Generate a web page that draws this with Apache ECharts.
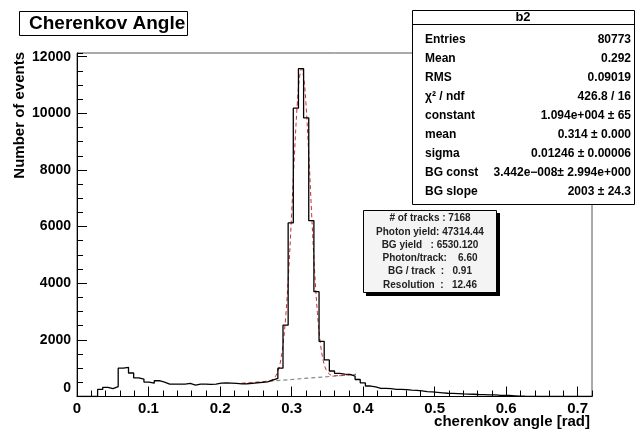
<!DOCTYPE html>
<html>
<head>
<meta charset="utf-8">
<script src="https://cdn.jsdelivr.net/npm/echarts@6/dist/echarts.min.js"></script>
<style>
html,body{margin:0;padding:0;background:#fff;}
#c{width:635px;height:434px;}
</style>
</head>
<body>
<div id="c"></div>
<script>
// ---- data ----
const binStart = 0.0;
const binWidth = 0.0072;   // 100 bins over [0, 0.72]
const counts = [
  0, 0, 0, 0, 250, 325, 280, 350, 1000, 1030,
  830, 660, 610, 510, 470, 557, 505, 440, 440, 440,
  440, 460, 405, 440, 440, 430, 440, 470, 480, 470,
  460, 445, 450, 460, 480, 500, 520, 580, 640, 1000,
  2520, 6130, 10180, 11577, 9840, 6210, 3700, 1950, 1290, 900,
  820, 790, 780, 720, 600, 480, 370, 340, 290, 285,
  275, 254, 250, 240, 225, 215, 200, 170, 160, 145,
  130, 115, 110, 100, 90, 85, 80, 70, 65, 60,
  55, 45, 40, 35, 25, 15, 8, 5, 3, 0,
  0, 0, 0, 0, 0, 0, 0, 0, 0, 0
];
// total fit curve (red dashed)
const fitX = [0.230, 0.240, 0.250, 0.260, 0.270, 0.275, 0.280, 0.284, 0.288, 0.292, 0.296, 0.300, 0.304, 0.308, 0.311, 0.314, 0.317, 0.320, 0.324, 0.328, 0.332, 0.336, 0.340, 0.344, 0.348, 0.353, 0.360, 0.370, 0.380, 0.390];
const fitY = [461, 481, 501, 521, 563, 633, 826, 1172, 1818, 2887, 4444, 6421, 8537, 10360, 11250, 11569, 11262, 10384, 8577, 6477, 4516, 2975, 1922, 1292, 962, 789, 733, 741, 761, 781];
// background line (grey dashed)
const bgX = [0.230, 0.390];
const bgY = [461, 781];

const xTickLabels = ['0', '0.1', '0.2', '0.3', '0.4', '0.5', '0.6', '0.7'];
const yTickLabels = ['0', '2000', '4000', '6000', '8000', '10000', '12000'];

const statsRows = [
  ['Entries', '80773'],
  ['Mean', '0.292'],
  ['RMS', '0.09019'],
  ['\u03C7\u00B2 / ndf', '426.8 / 16'],
  ['constant', '1.094e+004 \u00B1 65'],
  ['mean', '0.314 \u00B1 0.000'],
  ['sigma', '0.01246 \u00B1 0.00006'],
  ['BG const', '3.442e\u2212008\u00B1 2.994e+000'],
  ['BG slope', '2003 \u00B1 24.3']
];
const infoLines = [
  '# of tracks : 7168',
  'Photon yield: 47314.44',
  'BG yield   : 6530.120',
  'Photon/track:    6.60',
  'BG / track  :   0.91',
  'Resolution  :   12.46'
];

// ---- build ----
const histData = counts.map((c, i) => [binStart + i * binWidth, c]);
histData.push([binStart + counts.length * binWidth, 0]);
const fitData = fitX.map((x, i) => [x, fitY[i]]);
const bgData = bgX.map((x, i) => [x, bgY[i]]);

const F = '"Liberation Sans", Arial, sans-serif';
const chart = echarts.init(document.getElementById('c'), null, {renderer: 'canvas'});

const gridL = 77, gridT = 53, gridW = 515, gridH = 343.5;

const graphics = [];
// title box
graphics.push({type: 'rect', shape: {x: 19.5, y: 11.5, width: 168, height: 24}, style: {fill: '#fff', stroke: '#000', lineWidth: 1}, z: 10});
graphics.push({type: 'text', x: 29, y: 24, style: {text: 'Cherenkov Angle', font: 'bold 19px ' + F, fill: '#000', textVerticalAlign: 'middle'}, z: 11});
// stats box
const sbX = 412, sbY = 10, sbW = 222, sbH = 194;
graphics.push({type: 'rect', shape: {x: sbX + 0.5, y: sbY + 0.5, width: sbW, height: sbH}, style: {fill: '#fff', stroke: '#000', lineWidth: 1}, z: 10});
graphics.push({type: 'line', shape: {x1: sbX, y1: 24.5, x2: sbX + sbW, y2: 24.5}, style: {stroke: '#000', lineWidth: 1}, z: 11});
graphics.push({type: 'text', x: sbX + sbW / 2, y: 17, style: {text: 'b2', font: 'bold 13px ' + F, fill: '#000', textAlign: 'center', textVerticalAlign: 'middle'}, z: 11});
statsRows.forEach((r, k) => {
  const y = 39.3 + 19.1 * k;
  graphics.push({type: 'text', x: 425, y: y, style: {text: r[0], font: 'bold 12px ' + F, fill: '#000', textVerticalAlign: 'middle'}, z: 11});
  graphics.push({type: 'text', x: 631, y: y, style: {text: r[1], font: 'bold 12px ' + F, fill: '#000', textAlign: 'right', textVerticalAlign: 'middle'}, z: 11});
});
// info box with shadow
graphics.push({type: 'rect', shape: {x: 366, y: 213, width: 134, height: 83}, style: {fill: '#000'}, z: 10});
graphics.push({type: 'rect', shape: {x: 363.5, y: 210.5, width: 133, height: 82}, style: {fill: '#f4f4f4', stroke: '#000', lineWidth: 1}, z: 11});
infoLines.forEach((t, k) => {
  graphics.push({type: 'text', x: 430, y: 218.5 + 13.3 * k, style: {text: t, font: 'bold 10px ' + F, fill: '#222', textAlign: 'center', textVerticalAlign: 'middle'}, z: 12});
});
// axis titles
graphics.push({type: 'text', x: 20, y: 52, rotation: Math.PI / 2, style: {text: 'Number of events', font: 'bold 15px ' + F, fill: '#000', textAlign: 'right', textVerticalAlign: 'middle'}, z: 11});
graphics.push({type: 'text', x: 590, y: 422, style: {text: 'cherenkov angle [rad]', font: 'bold 15px ' + F, fill: '#000', textAlign: 'right', textVerticalAlign: 'middle'}, z: 11});
// shifted y "0" label (ROOT style)
graphics.push({type: 'text', x: 71, y: 388, style: {text: yTickLabels[0], font: 'bold 14px ' + F, fill: '#000', textAlign: 'right', textVerticalAlign: 'middle'}, z: 11});

const option = {
  animation: false,
  backgroundColor: '#fff',
  grid: {left: gridL, top: gridT, width: gridW, height: gridH, show: true, borderColor: '#555', borderWidth: 1, backgroundColor: 'transparent', containLabel: false, outerBoundsMode: 'none'},
  xAxis: [
    {
      type: 'value', min: 0, max: 0.72, interval: 0.1,
      axisLine: {lineStyle: {color: '#000', width: 1}},
      axisTick: {inside: true, length: 10, lineStyle: {color: '#000'}},
      splitLine: {show: false},
      axisLabel: {margin: 5, color: '#000', fontSize: 15, fontWeight: 'bold', fontFamily: F, showMaxLabel: false,
        formatter: v => { const i = Math.round(v * 10); return xTickLabels[i] !== undefined && Math.abs(v * 10 - i) < 1e-6 ? xTickLabels[i] : ''; }}
    },
    {
      type: 'value', min: 0, max: 0.72, interval: 0.02, position: 'bottom',
      axisLine: {show: false},
      axisTick: {inside: true, length: 6, lineStyle: {color: '#000'}},
      splitLine: {show: false},
      axisLabel: {show: false}
    }
  ],
  yAxis: [
    {
      type: 'value', min: 0, max: 12130, interval: 2000,
      axisLine: {show: true, lineStyle: {color: '#000', width: 1}},
      axisTick: {show: true, inside: true, length: 10, lineStyle: {color: '#000'}},
      splitLine: {show: false},
      axisLabel: {margin: 6, color: '#000', fontSize: 14, fontWeight: 'bold', fontFamily: F, showMaxLabel: false, showMinLabel: false,
        formatter: v => { const i = Math.round(v / 2000); return yTickLabels[i] !== undefined && Math.abs(v / 2000 - i) < 1e-6 ? yTickLabels[i] : ''; }}
    },
    {
      type: 'value', min: 0, max: 12130, interval: 500, position: 'left',
      axisLine: {show: false},
      axisTick: {show: true, inside: true, length: 6, lineStyle: {color: '#000'}},
      splitLine: {show: false},
      axisLabel: {show: false}
    }
  ],
  series: [
    {
      type: 'line', name: 'bg', data: bgData, symbol: 'none', silent: true,
      lineStyle: {color: '#888', width: 1.2, type: [4, 3]}, z: 3
    },
    {
      type: 'line', name: 'fit', data: fitData, symbol: 'none', smooth: 0.35, silent: true,
      lineStyle: {color: '#d42a2a', width: 1, type: [4, 3]}, z: 4
    },
    {
      type: 'line', name: 'hist', data: histData, step: 'end', symbol: 'none', silent: true,
      lineStyle: {color: '#000', width: 1.3}, z: 5
    }
  ],
  graphic: graphics
};
chart.setOption(option);
</script>
</body>
</html>
